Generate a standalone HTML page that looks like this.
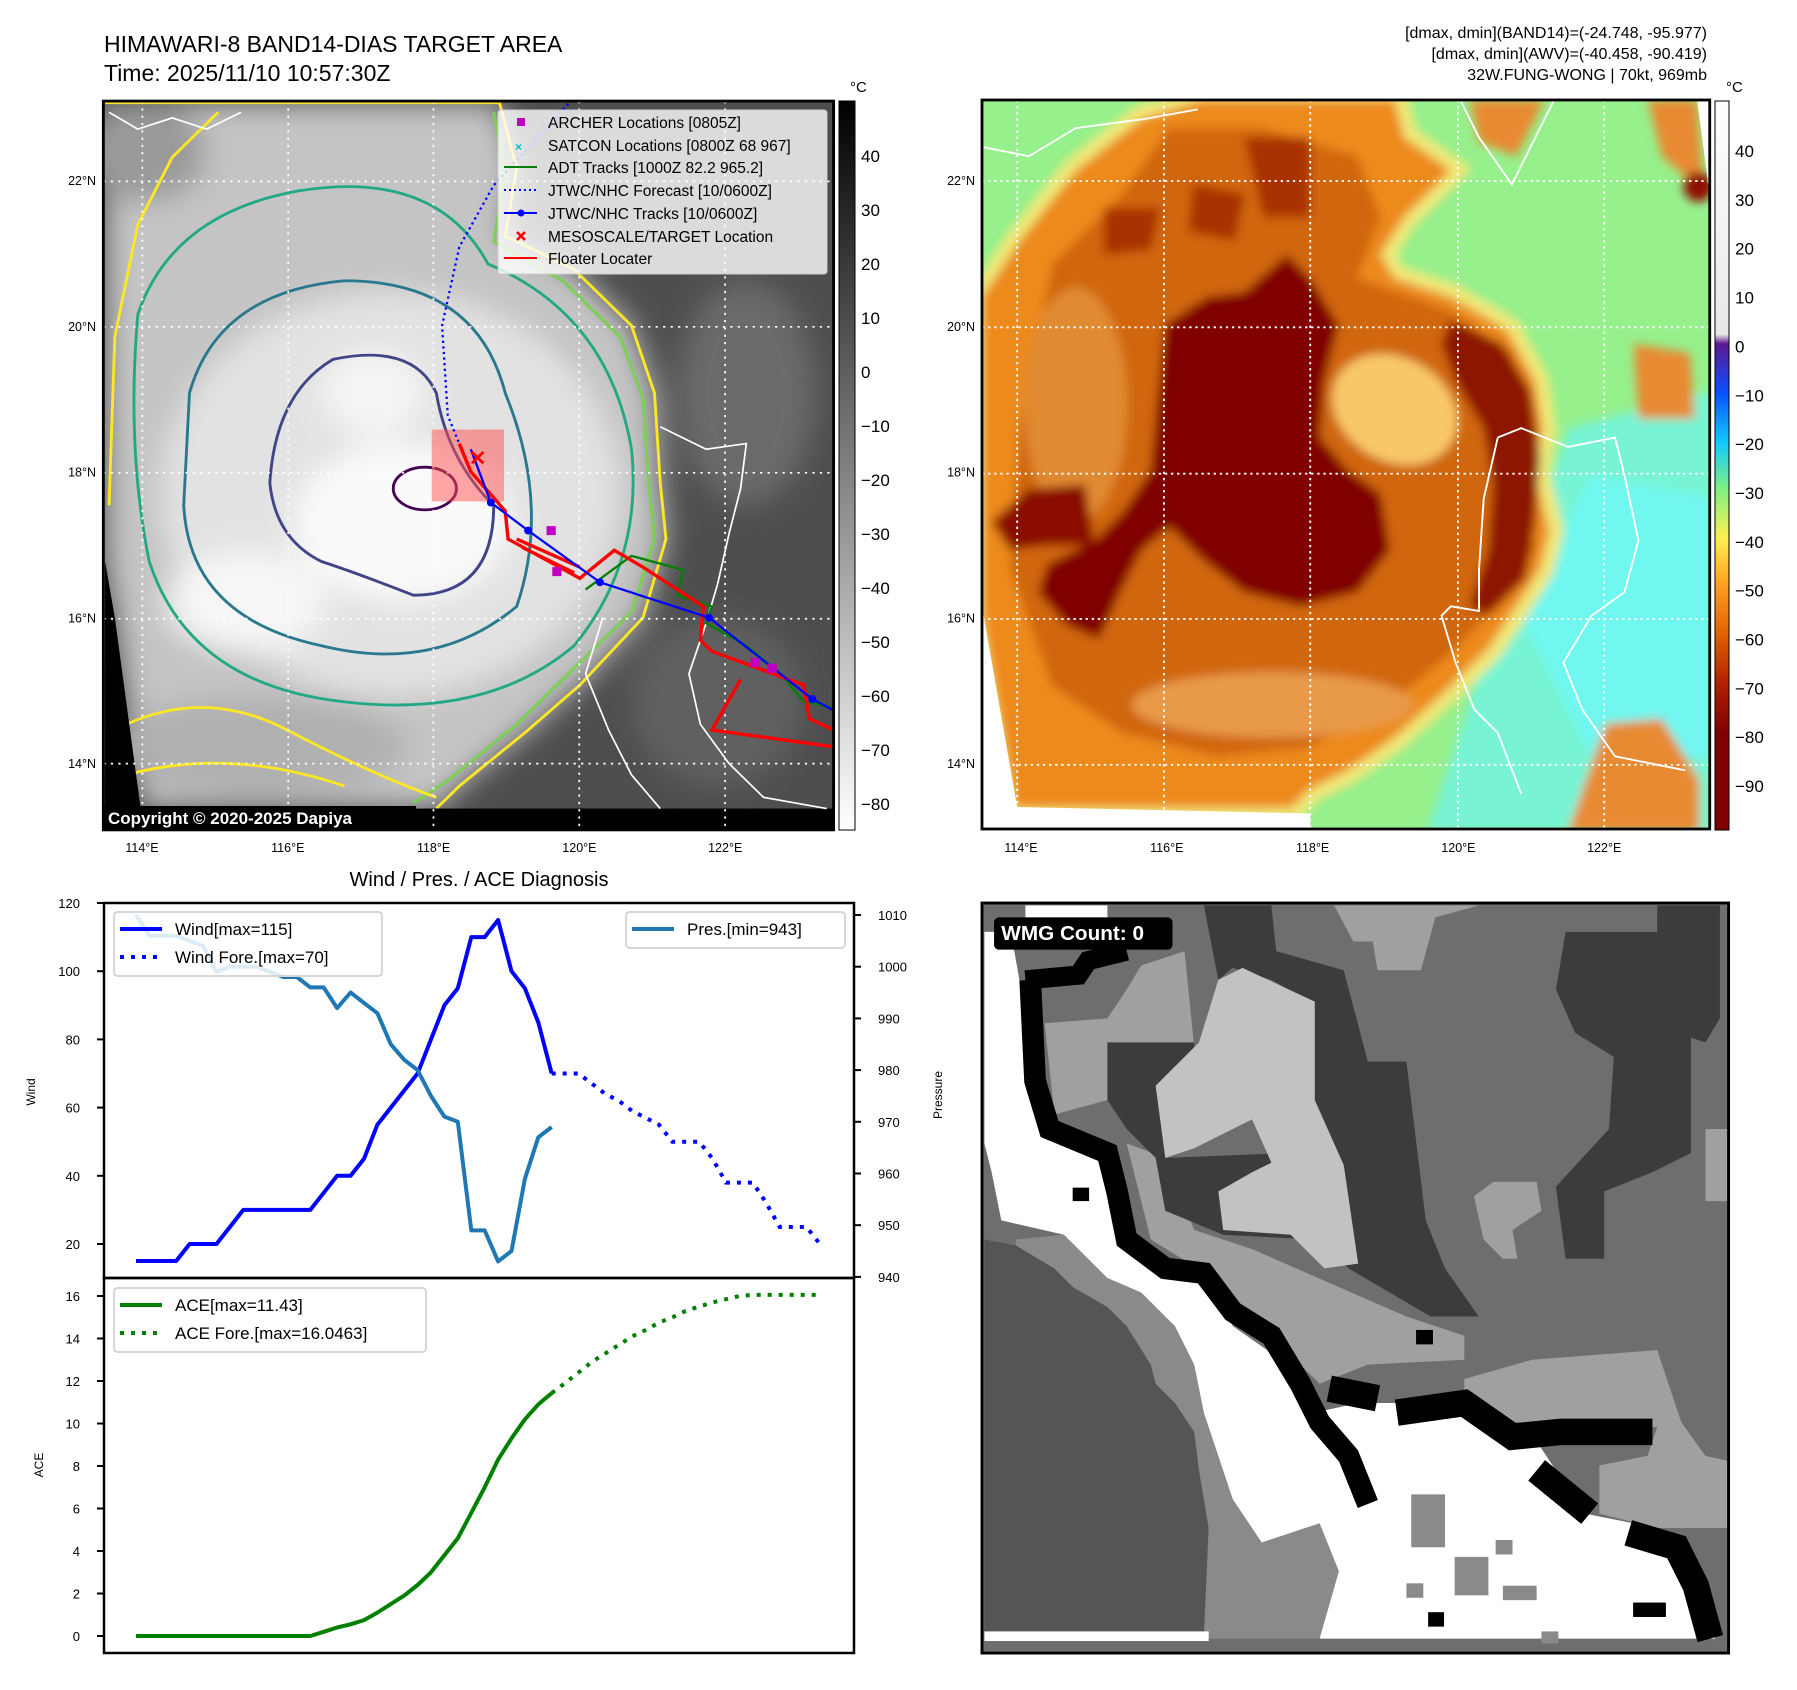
<!DOCTYPE html>
<html><head><meta charset="utf-8"><style>
html,body{margin:0;padding:0;background:#fff;}
svg{display:block;font-family:"Liberation Sans","DejaVu Sans",sans-serif;}
</style></head><body>
<svg id="root" width="1797" height="1690" viewBox="0 0 1797 1690" xmlns="http://www.w3.org/2000/svg">
<defs>
<filter id="blur8" x="-5%" y="-5%" width="110%" height="110%"><feGaussianBlur stdDeviation="10"/></filter>
<filter id="blur20" x="-5%" y="-5%" width="110%" height="110%"><feGaussianBlur stdDeviation="25"/></filter>
<clipPath id="clipL"><rect x="180" y="180" width="1272" height="1298"/></clipPath>
<clipPath id="clipR"><rect x="0" y="0" width="1552" height="1555"/></clipPath>
<linearGradient id="cbGray" x1="0" y1="0" x2="0" y2="1">
<stop offset="0" stop-color="#000"/><stop offset="1" stop-color="#fff"/></linearGradient>
<linearGradient id="cbColor" x1="0" y1="0" x2="0" y2="1">
<stop offset="0" stop-color="#ffffff"/><stop offset="0.32" stop-color="#e8e8e8"/>
<stop offset="0.333" stop-color="#5a1890"/><stop offset="0.4" stop-color="#0a50ff"/>
<stop offset="0.467" stop-color="#10c8ff"/><stop offset="0.533" stop-color="#80f080"/>
<stop offset="0.6" stop-color="#fff050"/><stop offset="0.667" stop-color="#ff9a20"/>
<stop offset="0.733" stop-color="#e06000"/><stop offset="0.8" stop-color="#b02000"/>
<stop offset="0.867" stop-color="#800000"/><stop offset="1" stop-color="#800000"/></linearGradient>
</defs>

<!-- Titles -->
<text x="104" y="52" font-size="23">HIMAWARI-8 BAND14-DIAS TARGET AREA</text>
<text x="104" y="81" font-size="23">Time: 2025/11/10 10:57:30Z</text>
<g font-size="16" text-anchor="end">
<text x="1707" y="38">[dmax, dmin](BAND14)=(-24.748, -95.977)</text>
<text x="1707" y="59">[dmax, dmin](AWV)=(-40.458, -90.419)</text>
<text x="1707" y="80">32W.FUNG-WONG | 70kt, 969mb</text>
</g>

<!-- LEFT MAP (zoom2 coords) -->
<g transform="scale(0.5741,0.5615)">
<g clip-path="url(#clipL)">
<rect x="180" y="180" width="1272" height="1298" fill="#4e4e4e"/>
<g filter="url(#blur20)">
<ellipse cx="1300" cy="700" rx="120" ry="200" fill="#6a6a6a"/>
<ellipse cx="1250" cy="1250" rx="150" ry="150" fill="#606060"/>
<path d="M183,183 L870,183 L900,300 L880,420 L1000,480 L1100,580 L1140,700 L1150,860 L1160,960 L1120,1100 L1010,1220 L920,1300 L800,1400 L760,1440 L245,1440 L200,1100 L183,1000 Z" fill="#c4c4c4"/>
<ellipse cx="680" cy="880" rx="400" ry="360" fill="#e2e2e2"/>
<ellipse cx="700" cy="930" rx="190" ry="140" fill="#fafafa"/>
<ellipse cx="430" cy="1070" rx="140" ry="90" fill="#f6f6f6"/>
<ellipse cx="650" cy="700" rx="90" ry="80" fill="#f4f4f4"/>
<ellipse cx="250" cy="270" rx="110" ry="90" fill="#9a9a9a"/>
<ellipse cx="450" cy="1330" rx="260" ry="90" fill="#b0b0b0"/>
</g>
<path d="M183,183 L870,183 L900,300 L880,420 L1000,480 L1100,580 L1140,700 L1150,860 L1160,960 L1120,1100 L1010,1220 L920,1300 L800,1400 L760,1440" fill="none" stroke="#fde725" stroke-width="5"/>
<path d="M380,200 L300,280 L240,400 L200,600 L190,900" fill="none" stroke="#fde725" stroke-width="5"/>
<path d="M860,200 L880,310 L860,430 L980,500 L1080,600 L1120,710 L1130,860 L1140,960 L1100,1090 L990,1200 L900,1290 L780,1390 L720,1430" fill="none" stroke="#7ad151" stroke-width="5"/>
<path d="M200,1300 Q350,1220 500,1300 T760,1420 M220,1380 Q400,1330 600,1400" fill="none" stroke="#fde725" stroke-width="5"/>
<path d="M240,560 Q300,380 520,340 Q760,300 850,470 Q1060,560 1100,800 Q1120,1000 1000,1150 Q850,1280 600,1250 Q330,1220 260,1000 Q220,800 240,560 Z" fill="none" stroke="#22a884" stroke-width="5"/>
<path d="M330,700 Q380,520 600,500 Q830,500 880,700 Q960,900 900,1080 Q760,1200 560,1150 Q330,1100 320,900 Z" fill="none" stroke="#2a788e" stroke-width="5"/>
<path d="M470,860 Q480,700 580,640 Q720,610 760,700 Q780,820 860,900 Q860,1060 720,1060 Q620,1020 560,1000 Q480,960 470,860 Z" fill="none" stroke="#414487" stroke-width="5"/>
<ellipse cx="740" cy="870" rx="55" ry="38" fill="none" stroke="#440154" stroke-width="5"/>
<path d="M183,1000 L200,1100 L245,1440 L183,1440 Z" fill="#000"/>
<rect x="180" y="1440" width="1272" height="40" fill="#000"/>
<g stroke="#fff" stroke-width="3" stroke-dasharray="4,9" fill="none">
<line x1="248" y1="180" x2="248" y2="1478"/><line x1="502" y1="180" x2="502" y2="1478"/><line x1="755" y1="180" x2="755" y2="1478"/><line x1="1009" y1="180" x2="1009" y2="1478"/><line x1="1263" y1="180" x2="1263" y2="1478"/>
<line x1="180" y1="323" x2="1452" y2="323"/><line x1="180" y1="582" x2="1452" y2="582"/><line x1="180" y1="842" x2="1452" y2="842"/><line x1="180" y1="1102" x2="1452" y2="1102"/><line x1="180" y1="1360" x2="1452" y2="1360"/>
</g>
<path d="M1150,760 L1230,800 L1300,790 L1290,870 L1270,950 L1250,1040 L1230,1110 L1200,1200 L1220,1290 L1270,1360 L1330,1420 L1440,1440 M1050,1100 L1020,1200 L1060,1300 L1100,1380 L1150,1440" fill="none" stroke="#fff" stroke-width="3"/>
<path d="M190,200 L240,230 L300,210 L360,230 L420,200" fill="none" stroke="#fff" stroke-width="3"/>
<rect x="752" y="765" width="126" height="128" fill="#ff5050" fill-opacity="0.5"/>
<path d="M990,185 L860,330 L800,440 L770,580 L780,740 L800,790" fill="none" stroke="#0000ff" stroke-width="4" stroke-dasharray="4,6"/>
<path d="M1020,1050 L1100,990 L1190,1015 L1180,1060 L1240,1080 L1230,1110 L1300,1150 L1360,1200 L1400,1250 L1452,1260" fill="none" stroke="#008000" stroke-width="4"/>
<path d="M800,790 L820,840 L880,910 L885,960 L1010,1030 L1070,980 L1120,1010 L1225,1080 L1220,1140 L1240,1160 L1400,1220 L1410,1280 L1452,1300 M1290,1210 L1240,1300 L1452,1330 M900,960 L1010,1010 M910,975 L1000,1020" fill="none" stroke="#ff0000" stroke-width="6"/>
<path d="M820,800 L855,895 L920,945 L1045,1037 L1235,1100 L1415,1245 L1452,1265" fill="none" stroke="#0000ff" stroke-width="4"/>
<g fill="#0000ff"><circle cx="855" cy="895" r="7"/><circle cx="920" cy="945" r="7"/><circle cx="1045" cy="1037" r="7"/><circle cx="1235" cy="1100" r="7"/><circle cx="1415" cy="1245" r="7"/></g>
<g fill="#c000c0"><rect x="952" y="937" width="16" height="16"/><rect x="962" y="1010" width="16" height="16"/><rect x="1307" y="1172" width="16" height="16"/><rect x="1337" y="1182" width="16" height="16"/></g>
<path d="M822,805 L842,825 M842,805 L822,825" stroke="#ff0000" stroke-width="5"/>
</g>
<rect x="180" y="180" width="1272" height="1298" fill="none" stroke="#000" stroke-width="5"/>
</g>
<rect x="103" y="806" width="313" height="24" fill="#000"/>
<text x="108" y="824" font-size="17" font-weight="bold" fill="#fff">Copyright © 2020-2025 Dapiya</text>

<!-- legend -->
<g font-size="15.5">
<rect x="498" y="110" width="329" height="164" fill="#fff" fill-opacity="0.8" stroke="#ccc" rx="3"/>
<rect x="517" y="118" width="8" height="8" fill="#c000c0"/><text x="548" y="128">ARCHER Locations [0805Z]</text>
<text x="515" y="151" font-size="12" fill="#00bfbf" font-weight="bold">×</text><text x="548" y="151">SATCON Locations [0800Z 68 967]</text>
<line x1="504" y1="167" x2="537" y2="167" stroke="#008000" stroke-width="2"/><text x="548" y="173">ADT Tracks [1000Z 82.2 965.2]</text>
<line x1="504" y1="190" x2="537" y2="190" stroke="#0000ff" stroke-width="2" stroke-dasharray="2,3"/><text x="548" y="196">JTWC/NHC Forecast [10/0600Z]</text>
<line x1="504" y1="213" x2="537" y2="213" stroke="#0000ff" stroke-width="2"/><circle cx="521" cy="213" r="3.5" fill="#0000ff"/><text x="548" y="219">JTWC/NHC Tracks [10/0600Z]</text>
<path d="M517,232 L525,240 M525,232 L517,240" stroke="#f00" stroke-width="2.5"/><text x="548" y="242">MESOSCALE/TARGET Location</text>
<line x1="504" y1="258" x2="537" y2="258" stroke="#f00" stroke-width="2"/><text x="548" y="264">Floater Locater</text>
</g>

<!-- left colorbar -->
<rect x="839" y="101" width="16" height="729" fill="url(#cbGray)" stroke="#000" stroke-width="1"/>
<text x="850" y="92" font-size="15">°C</text>
<g id="cbL" font-size="17"></g>

<!-- map tick labels -->
<g id="mapTicks" font-size="12.5"></g>

<!-- RIGHT MAP (zoom6 coords) -->
<g transform="translate(982,100) scale(0.4689,0.4688)">
<g clip-path="url(#clipR)">
<rect x="0" y="0" width="1557" height="1560" fill="#96f08c"/>
<g filter="url(#blur8)">
<path d="M1050,1250 L1150,1000 L1250,700 L1557,620 L1557,1560 L950,1560 Z" fill="#78f4d4"/>
<path d="M1150,1100 L1300,800 L1557,850 L1557,1400 L1300,1400 Z" fill="#6ff7f0"/>
<path d="M0,420 L80,300 L200,150 L340,40 L470,0 L880,0 L900,80 L1000,150 L900,250 L850,330 L880,380 L1000,420 L1120,490 L1180,600 L1195,700 L1180,800 L1210,920 L1190,1000 L1140,1080 L1080,1170 L990,1260 L880,1360 L780,1430 L700,1470 L660,1510 L70,1510 L0,1100 Z" fill="#f4e070" stroke="#f0e878" stroke-width="60"/>
<path d="M0,420 L80,300 L200,150 L340,40 L470,0 L880,0 L900,80 L1000,150 L900,250 L850,330 L880,380 L1000,420 L1120,490 L1180,600 L1195,700 L1180,800 L1210,920 L1190,1000 L1140,1080 L1080,1170 L990,1260 L880,1360 L780,1430 L700,1470 L660,1510 L70,1510 L0,1100 Z" fill="#ec8a1c"/>
<path d="M1040,0 L1200,0 L1140,120 L1060,90 Z M1420,0 L1525,0 L1540,200 L1450,120 Z M1390,520 L1510,540 L1520,680 L1400,680 Z M1330,1330 L1450,1320 L1530,1450 L1530,1560 L1250,1560 Z" fill="#e88a30"/>
<path d="M150,350 L300,200 L400,60 L600,60 L800,120 L850,250 L800,380 L1000,450 L1130,540 L1170,700 L1160,850 L1180,960 L1100,1080 L1000,1180 L880,1280 L700,1380 L500,1400 L300,1350 L150,1250 L60,1000 L80,700 Z" fill="#d0660c"/>
<ellipse cx="620" cy="1290" rx="300" ry="70" fill="#e89a48"/>
<ellipse cx="200" cy="650" rx="110" ry="250" fill="#e08a30"/>
<path d="M560,80 L700,80 L700,250 L600,250 Z M450,180 L560,200 L540,300 L440,280 Z M260,230 L380,230 L360,320 L260,330 Z" fill="#a83000"/>
<path d="M1000,470 L1110,520 L1170,620 L1190,760 L1180,900 L1160,1020 L1080,1100 L1040,1080 L1080,960 L1090,820 L1070,700 L1010,600 L980,520 Z" fill="#8c1400"/>
<path d="M390,480 L480,420 L560,410 L650,330 L700,380 L760,480 L730,600 L720,720 L780,790 L850,840 L870,960 L800,1050 L680,1080 L560,1050 L470,980 L400,910 L340,960 L290,1060 L250,1150 L180,1120 L120,1050 L140,990 L240,940 L300,880 L360,790 L370,680 Z" fill="#800000"/>
<path d="M20,900 L100,830 L220,820 L240,950 L140,950 L60,960 Z" fill="#8a0c00"/>
<ellipse cx="880" cy="660" rx="140" ry="110" fill="#f8c868" transform="rotate(30 880 660)"/>
<ellipse cx="1528" cy="185" rx="32" ry="32" fill="#900800"/>
</g>
<path d="M0,1080 L75,1508 L700,1522 L700,1560 L0,1560 Z" fill="#fff"/>
<path d="M1525,0 L1557,0 L1557,240 Z" fill="#fff"/>
<g stroke="#fff" stroke-width="4" stroke-dasharray="5,8" fill="none">
<line x1="75" y1="0" x2="75" y2="1560"/><line x1="388" y1="0" x2="388" y2="1560"/><line x1="700" y1="0" x2="700" y2="1560"/><line x1="1015" y1="0" x2="1015" y2="1560"/><line x1="1327" y1="0" x2="1327" y2="1560"/>
<line x1="0" y1="173" x2="1557" y2="173"/><line x1="0" y1="485" x2="1557" y2="485"/><line x1="0" y1="797" x2="1557" y2="797"/><line x1="0" y1="1107" x2="1557" y2="1107"/><line x1="0" y1="1418" x2="1557" y2="1418"/>
</g>
<path d="M1100,720 L1150,700 L1250,740 L1350,720 L1370,800 L1400,940 L1370,1050 L1300,1100 L1240,1200 L1280,1300 L1350,1400 L1500,1430 M1100,720 L1070,850 L1060,1000 L1060,1090 L1000,1080 L980,1100 L1010,1200 L1050,1300 L1100,1350 L1150,1480 M1020,0 L1060,80 L1130,180 L1160,120 L1220,0 M0,100 L100,120 L200,60 L350,40 L460,20" fill="none" stroke="#fff" stroke-width="4"/>
</g>
<rect x="0" y="0" width="1552" height="1555" fill="none" stroke="#000" stroke-width="6"/>
</g>
<rect x="1715" y="101" width="14" height="729" fill="url(#cbColor)" stroke="#000" stroke-width="1"/>
<text x="1726" y="92" font-size="15">°C</text>
<g id="cbR" font-size="17"></g>

<!-- WMG panel (zoom7 coords) -->
<g transform="translate(982,903) scale(0.4823,0.4808)">
<rect x="0" y="0" width="1548" height="1560" fill="#6e6e6e"/>
<path d="M5,700 L70,712 L150,760 L190,800 L260,840 L300,880 L350,960 L360,1000 L400,1040 L440,1100 L450,1180 L470,1300 L460,1520 L5,1520 Z" fill="#555"/>
<path d="M70,700 L170,690 L260,780 L330,810 L400,880 L440,960 L460,1060 L520,1240 L580,1330 L700,1290 L740,1390 L700,1530 L460,1530 L470,1300 L450,1180 L440,1100 L400,1040 L360,1000 L350,960 L300,880 L260,840 L190,800 L150,760 L70,712 Z" fill="#8a8a8a"/>
<path d="M130,250 L260,240 L300,180 L330,130 L420,100 L440,300 L360,360 L260,410 L150,440 Z M300,500 L380,530 L440,680 L560,720 L720,790 L880,860 L1000,900 L1000,950 L800,960 L700,1000 L600,900 L480,780 L350,700 Z" fill="#a0a0a0"/>
<path d="M460,5 L600,5 L610,100 L750,140 L800,330 L880,330 L920,660 L960,760 L1030,860 L930,860 L760,760 L700,700 L690,560 L660,420 L690,210 L600,160 L520,135 L490,160 Z M260,290 L440,290 L440,380 L380,530 L640,520 L690,700 L500,690 L380,640 L360,530 L300,470 L260,410 Z" fill="#3c3c3c"/>
<path d="M1210,60 L1400,60 L1400,5 L1530,5 L1530,240 L1500,290 L1470,280 L1470,520 L1390,560 L1290,600 L1290,740 L1210,740 L1190,590 L1300,470 L1310,320 L1230,270 L1190,180 Z" fill="#3c3c3c"/>
<path d="M360,380 L450,290 L490,160 L540,135 L690,205 L690,410 L750,545 L780,750 L710,760 L640,690 L500,680 L490,600 L560,560 L600,540 L560,450 L440,510 L380,530 Z" fill="#c2c2c2"/>
<path d="M730,5 L1030,5 L940,30 L910,140 L820,140 L810,80 L770,80 Z M1020,610 L1060,580 L1150,580 L1160,640 L1100,680 L1110,740 L1080,740 L1040,700 Z M1500,470 L1545,470 L1545,620 L1500,620 Z" fill="#a0a0a0"/>
<path d="M1000,990 L1140,950 L1400,930 L1450,1080 L1500,1150 L1545,1160 L1545,1300 L1400,1300 L1280,1270 L1280,1170 L1380,1150 L1400,1090 L1100,1080 L1000,1040 Z" fill="#a0a0a0"/>
<path d="M5,60 L60,60 L130,460 L240,500 L280,560 L300,690 L380,760 L460,770 L520,880 L620,950 L690,1060 L780,1040 L1000,1040 L1150,1120 L1250,1270 L1400,1300 L1480,1420 L1520,1530 L700,1530 L740,1390 L700,1290 L580,1330 L520,1240 L460,1060 L440,960 L400,880 L330,810 L260,780 L170,690 L40,660 L20,560 L5,500 Z" fill="#fff"/>
<rect x="90" y="5" width="170" height="25" fill="#fff"/>
<rect x="5" y="1515" width="465" height="20" fill="#fff"/>
<path d="M100,160 L110,370 L140,470 L260,520 L280,600 L300,700 L380,760 L460,770 L520,850 L600,900 L660,1000 L700,1080 L760,1150 L800,1250" fill="none" stroke="#000" stroke-width="45"/>
<path d="M860,1060 L1000,1040 L1100,1110 L1200,1100 L1390,1100 M1150,1180 L1260,1270 M1340,1310 L1440,1340 L1480,1420 L1510,1530 M720,1010 L820,1030" fill="none" stroke="#000" stroke-width="55"/>
<path d="M90,160 L200,150 L220,120 L300,100" fill="none" stroke="#000" stroke-width="40"/>
<g fill="#8a8a8a"><rect x="890" y="1230" width="70" height="110"/><rect x="980" y="1360" width="70" height="80"/><rect x="1080" y="1420" width="70" height="30"/><rect x="880" y="1415" width="35" height="30"/><rect x="1160" y="1515" width="35" height="25"/><rect x="1065" y="1325" width="35" height="30"/></g>
<g fill="#000"><rect x="925" y="1475" width="33" height="30"/><rect x="1350" y="1455" width="68" height="30"/><rect x="188" y="592" width="34" height="28"/><rect x="900" y="888" width="35" height="30"/></g>
<rect x="0" y="0" width="1548" height="1560" fill="none" stroke="#000" stroke-width="6"/>
<rect x="25" y="30" width="370" height="67" rx="10" fill="#000"/>
<text x="40" y="77" font-size="43" font-weight="bold" fill="#fff">WMG Count: 0</text>
</g>

<!-- Diagnosis chart -->
<text x="479" y="886" font-size="20" text-anchor="middle">Wind / Pres. / ACE Diagnosis</text>
<g id="chart"></g>
</svg>
<script>
var NS='http://www.w3.org/2000/svg';
function mk(tag,attrs,parent,text){var e=document.createElementNS(NS,tag);for(var k in attrs)e.setAttribute(k,attrs[k]);if(text!==undefined)e.textContent=text;parent.appendChild(e);return e;}

var cbLeftTicks=[40,30,20,10,0,-10,-20,-30,-40,-50,-60,-70,-80];
var cbRightTicks=[40,30,20,10,0,-10,-20,-30,-40,-50,-60,-70,-80,-90];
var lonLabels=['114°E','116°E','118°E','120°E','122°E'];
var latLabels=['22°N','20°N','18°N','16°N','14°N'];
(function(){
 var g=document.getElementById('cbL');
 cbLeftTicks.forEach(function(v){var y=156+(40-v)*5.4;
  var t=mk('text',{x:861,y:y+6},g,v<0?'\u2212'+(-v):String(v));
  
  });
 var g2=document.getElementById('cbR');
 cbRightTicks.forEach(function(v){var y=151+(40-v)*4.885;
  var t=mk('text',{x:1735,y:y+6},g2,v<0?'\u2212'+(-v):String(v));
  
  });
 var mt=document.getElementById('mapTicks');
 lonLabels.forEach(function(s,i){
  [142,1021].forEach(function(x0){var t=mk('text',{x:x0+i*145.8,y:852,'text-anchor':'middle'},mt,s);
  
  });
 });
 latLabels.forEach(function(s,i){var y=181+i*145.8+4;
  [96,975].forEach(function(x0){var t=mk('text',{x:x0,y:y,'text-anchor':'end'},mt,s);
  
  });
 });
})();

var wind=[15,15,15,15,20,20,20,25,30,30,30,30,30,30,35,40,40,45,55,60,65,70,80,90,95,110,110,115,100,95,85,70];
var windFore=[70,70,70,67,64,62,59,57,55,50,50,50,45,38,38,38,32,25,25,25,20];
var pres=[1010,1006,1006,1006,1005,1004,999,1000,1000,1000,999,998,998,996,996,992,995,993,991,985,982,980,975,971,970,949,949,943,945,959,967,969];
var ace=[0,0,0,0,0,0,0,0,0,0,0,0,0,0,0.2,0.4,0.55,0.75,1.1,1.5,1.9,2.4,3.0,3.8,4.6,5.8,7.0,8.3,9.3,10.2,10.9,11.43];
var aceFore=[11.43,11.9,12.4,12.9,13.3,13.7,14.1,14.4,14.75,15.0,15.3,15.5,15.7,15.85,16.0,16.05,16.05,16.05,16.05,16.05,16.05];
var windTicks=[20,40,60,80,100,120];
var presTicks=[940,950,960,970,980,990,1000,1010];
var aceTicks=[0,2,4,6,8,10,12,14,16];

var AX={l:104,r:854,t:903,mid:1278,b:1653};
function xI(i){return 136+i*13.41;}
function yW(v){return 903+(120-v)*3.41;}
function yP(v){return 915+(1010-v)*5.17;}
function yA(v){return 1636-v*21.25;}
function pts(arr,off,fy){return arr.map(function(v,i){return xI(i+off).toFixed(1)+','+fy(v).toFixed(1);}).join(' ');}

var C=document.getElementById('chart');
var off=wind.length-1;
var l1=mk('polyline',{points:pts(wind,0,yW),fill:'none',stroke:'#0000ff','stroke-width':4,'stroke-linejoin':'round'},C);


var l2=mk('polyline',{points:pts(windFore,off,yW),fill:'none',stroke:'#0000ff','stroke-width':4,'stroke-dasharray':'4,7'},C);


var l3=mk('polyline',{points:pts(pres,0,yP),fill:'none',stroke:'#1f77b4','stroke-width':4,'stroke-linejoin':'round'},C);


var l4=mk('polyline',{points:pts(ace,0,yA),fill:'none',stroke:'#008000','stroke-width':4,'stroke-linejoin':'round'},C);


var l5=mk('polyline',{points:pts(aceFore,ace.length-1,yA),fill:'none',stroke:'#008000','stroke-width':4,'stroke-dasharray':'4,7'},C);



var f1=mk('rect',{x:AX.l,y:AX.t,width:AX.r-AX.l,height:AX.mid-AX.t,fill:'none',stroke:'#000','stroke-width':2.5},C);


var f2=mk('rect',{x:AX.l,y:AX.mid,width:AX.r-AX.l,height:AX.b-AX.mid,fill:'none',stroke:'#000','stroke-width':2.5},C);



windTicks.forEach(function(v){var y=yW(v);
 mk('line',{x1:97,x2:104,y1:y,y2:y,stroke:'#000','stroke-width':2},C);
 var t=mk('text',{x:80,y:y+5,'text-anchor':'end','font-size':13},C,String(v));
 
 });
presTicks.forEach(function(v){var y=yP(v);
 mk('line',{x1:854,x2:861,y1:y,y2:y,stroke:'#000','stroke-width':2},C);
 var t=mk('text',{x:878,y:y+5,'font-size':13},C,String(v));
 
 });
aceTicks.forEach(function(v){var y=yA(v);
 mk('line',{x1:97,x2:104,y1:y,y2:y,stroke:'#000','stroke-width':2},C);
 var t=mk('text',{x:80,y:y+5,'text-anchor':'end','font-size':13},C,String(v));
 
 });

var yl1=mk('text',{x:0,y:0,'font-size':12,'text-anchor':'middle',transform:'translate(35,1092) rotate(-90)'},C,'Wind');


var yl2=mk('text',{x:0,y:0,'font-size':12,'text-anchor':'middle',transform:'translate(942,1095) rotate(-90)'},C,'Pressure');


var yl3=mk('text',{x:0,y:0,'font-size':12,'text-anchor':'middle',transform:'translate(43,1465) rotate(-90)'},C,'ACE');



function legend(x,y,w,h,items,name){
 var g=mk('g',{},C);
 
 
 mk('rect',{x:x,y:y,width:w,height:h,rx:4,fill:'#fff','fill-opacity':0.85,stroke:'#d6d6d6','stroke-width':2},g);
 items.forEach(function(it,i){var yy=y+17+i*28;
  var a={x1:x+6,x2:x+48,y1:yy,y2:yy,stroke:it.c,'stroke-width':4};if(it.d)a['stroke-dasharray']='4,7';
  mk('line',a,g);
  mk('text',{x:x+61,y:yy+6,'font-size':17},g,it.t);});
}
legend(114,912,268,64,[{c:'#0000ff',t:'Wind[max=115]'},{c:'#0000ff',d:1,t:'Wind Fore.[max=70]'}],'wind-legend');
legend(626,912,219,36,[{c:'#1f77b4',t:'Pres.[min=943]'}],'pressure-legend');
legend(114,1288,312,64,[{c:'#008000',t:'ACE[max=11.43]'},{c:'#008000',d:1,t:'ACE Fore.[max=16.0463]'}],'ace-legend');
</script>
</body></html>
